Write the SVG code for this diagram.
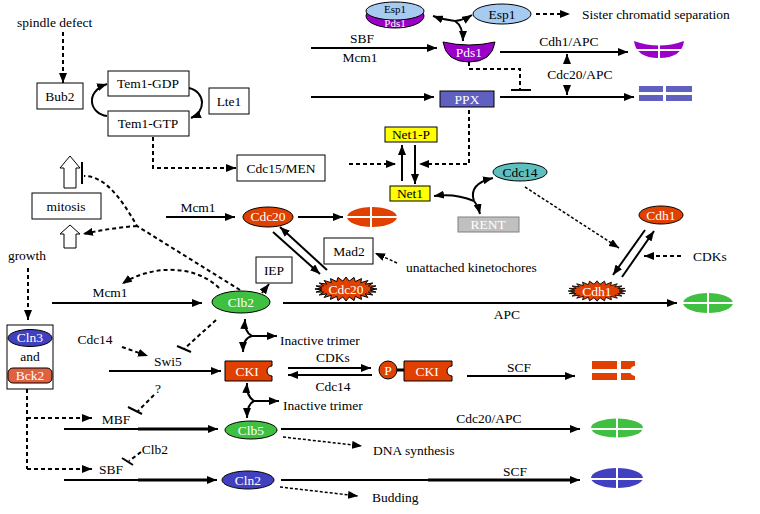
<svg xmlns="http://www.w3.org/2000/svg" width="760" height="514" viewBox="0 0 760 514" font-family="'Liberation Serif', 'DejaVu Serif', serif">
<style>
text{font-family:"Liberation Serif","DejaVu Serif",serif;font-size:13.5px;fill:#000}
.m{text-anchor:middle}
.w{fill:#fff}
.s{font-size:11px}
.box{fill:#fff;stroke:#000;stroke-width:1}
.ol{stroke:#000;stroke-width:1}
.red{fill:#E04000}
.grn{fill:#40C040}
.blu{fill:#4040C0}
.pur{fill:#9A00C8}
.ln{fill:none;stroke:#000;stroke-width:2}
.ds{fill:none;stroke:#000;stroke-width:2;stroke-dasharray:4 3}
.dt{fill:none;stroke:#000;stroke-width:1.5;stroke-dasharray:3 2}
.gap{stroke:#fff;stroke-width:2}
</style>
<defs>
<marker id="ah" viewBox="0 0 10 8" refX="10" refY="4" markerWidth="10" markerHeight="8" markerUnits="userSpaceOnUse" orient="auto-start-reverse"><path d="M0,0 L10,4 L0,8 z" fill="#000"/></marker>
<polygon id="star" points="32,0 24.8,1 30.9,3.1 23.1,3.1 27.7,6 19.8,4.9 22.6,8.5 15.2,6.3 16,10.4 9.6,7.4 8.3,11.6 3.3,7.9 0,12 -3.3,7.9 -8.3,11.6 -9.6,7.4 -16,10.4 -15.2,6.3 -22.6,8.5 -19.8,4.9 -27.7,6 -23.1,3.1 -30.9,3.1 -24.8,1 -32,0 -24.8,-1 -30.9,-3.1 -23.1,-3.1 -27.7,-6 -19.8,-4.9 -22.6,-8.5 -15.2,-6.3 -16,-10.4 -9.6,-7.4 -8.3,-11.6 -3.3,-7.9 0,-12 3.3,-7.9 8.3,-11.6 9.6,-7.4 16,-10.4 15.2,-6.3 22.6,-8.5 19.8,-4.9 27.7,-6 23.1,-3.1 30.9,-3.1 24.8,-1"/>
</defs>
<rect width="760" height="514" fill="#fff"/>

<g id="connectors">
<path class="ds" d="M63,32 V83" marker-end="url(#ah)"/>
<path class="ln" d="M107,116 C90,114 84,92 107,84" marker-end="url(#ah)"/>
<path class="ln" d="M189,88 C206,92 206,112 191,118" marker-end="url(#ah)"/>
<path class="ds" d="M153,137 V168 H236" marker-end="url(#ah)"/>
<path class="ln" d="M455,21 Q444,20 433,16" marker-end="url(#ah)"/>
<path class="ln" d="M455,21 Q464,20 472,15" marker-end="url(#ah)"/>
<path class="ln" d="M455,21 Q463,26 463,41" marker-end="url(#ah)"/>
<path class="ds" d="M536,14 H570" marker-end="url(#ah)"/>
<path class="ln" d="M311,48 H437" marker-end="url(#ah)"/>
<path class="ln" d="M500,52 H628" marker-end="url(#ah)"/>
<path class="ln" d="M567,64 V54" marker-end="url(#ah)"/>
<path class="ln" d="M567,86 V95" marker-end="url(#ah)"/>
<path class="ds" d="M469,62 V69 H520 V90"/>
<path class="ln" d="M511,90 H531"/>
<path class="ln" d="M311,97 H434" marker-end="url(#ah)"/>
<path class="ln" d="M500,97 H634" marker-end="url(#ah)"/>
<path class="ds" d="M469,110 V164 H419" marker-end="url(#ah)"/>
<path class="ds" d="M349,164 H396" marker-end="url(#ah)"/>
<path class="ln" d="M402,181 V145" marker-end="url(#ah)"/>
<path class="ln" d="M415,145 V184" marker-end="url(#ah)"/>
<path class="ln" d="M474,201 Q455,193 434,196" marker-end="url(#ah)"/>
<path class="ln" d="M474,201 Q468,184 493,178" marker-end="url(#ah)"/>
<path class="ln" d="M474,201 Q478,206 480,214" marker-end="url(#ah)"/>
<path class="dt" d="M525,187 L619,248" marker-end="url(#ah)"/>
<path class="ln" d="M82,162 V184"/>
<path class="ds" d="M240,290 L137,226 C120,196 104,176 84,176"/>
<path class="ds" d="M137,226 Q110,228 83,234" marker-end="url(#ah)"/>
<path class="ds" d="M28,268 V320" marker-end="url(#ah)"/>
<path class="ln" d="M52,303 H202" marker-end="url(#ah)"/>
<path class="ds" d="M219,288 C195,264 150,265 122,284" marker-end="url(#ah)"/>
<path class="ln" d="M262,293 L269,284" marker-end="url(#ah)"/>
<path class="ln" d="M166,217 H235" marker-end="url(#ah)"/>
<path class="ln" d="M298,217 H343" marker-end="url(#ah)"/>
<path class="ln" d="M273,232 L320,274" marker-end="url(#ah)"/>
<path class="ln" d="M327,270 L280,227" marker-end="url(#ah)"/>
<path class="dt" d="M397,263 L375,253" marker-end="url(#ah)"/>
<path class="ln" d="M283,303 H677" marker-end="url(#ah)"/>
<path class="ln" d="M645,230 L613,275" marker-end="url(#ah)"/>
<path class="ln" d="M622,277 L654,231" marker-end="url(#ah)"/>
<path class="ds" d="M681,256 H644" marker-end="url(#ah)"/>
<path class="ln" d="M252,336 Q244,332 245,319" marker-end="url(#ah)"/>
<path class="ln" d="M252,336 H277" marker-end="url(#ah)"/>
<path class="ln" d="M252,336 Q243,338 243,352" marker-end="url(#ah)"/>
<path class="ln" d="M254,401 Q246,396 247,383" marker-end="url(#ah)"/>
<path class="ln" d="M254,401 H279" marker-end="url(#ah)"/>
<path class="ln" d="M254,401 Q247,404 247,418" marker-end="url(#ah)"/>
<path class="ds" d="M122,347 L148,356" marker-end="url(#ah)"/>
<path class="ds" d="M216,320 L184,349"/>
<path class="ln" d="M177,346 L191,352"/>
<path class="ln" d="M109,371 H221" marker-end="url(#ah)"/>
<path class="ln" d="M288,368 H371" marker-end="url(#ah)"/>
<path class="ln" d="M372,375 H288" marker-end="url(#ah)"/>
<path class="ln" d="M397,370 H405" style="stroke-width:3"/>
<path class="ln" d="M467,376 H575" marker-end="url(#ah)"/>
<path class="ds" d="M27,389 V469"/>
<path class="ds" d="M27,418 H92" marker-end="url(#ah)"/>
<path class="ds" d="M27,469 H92" marker-end="url(#ah)"/>
<path class="ds" d="M154,395 L138,411"/>
<path class="ln" d="M128,407 L142,414"/>
<path class="ds" d="M141,452 L129,461"/>
<path class="ln" d="M122,458 L133,465"/>
<path class="ln" d="M64,429 H218" marker-end="url(#ah)"/>
<path class="ln" d="M138,429 H210" style="stroke-width:3"/>
<path class="ln" d="M64,480 H217" marker-end="url(#ah)"/>
<path class="ln" d="M138,480 H208" style="stroke-width:3"/>
<path class="ln" d="M281,429 H580" marker-end="url(#ah)"/>
<path class="ln" d="M281,480 H580" marker-end="url(#ah)"/>
<path class="ln" d="M428,480 H570" style="stroke-width:3"/>
<path class="dt" d="M283,437 L362,446" marker-end="url(#ah)"/>
<path class="dt" d="M280,487 L358,496" marker-end="url(#ah)"/>
</g>

<g id="labels">
<text x="17" y="27">spindle defect</text>
<text x="362" y="43" class="m">SBF</text>
<text x="360" y="62" class="m">Mcm1</text>
<text x="569" y="46" class="m">Cdh1/APC</text>
<text x="580" y="79" class="m">Cdc20/APC</text>
<text x="582" y="19">Sister chromatid separation</text>
<text x="27" y="260" class="m">growth</text>
<text x="110" y="297" class="m">Mcm1</text>
<text x="198" y="212" class="m">Mcm1</text>
<text x="406" y="272">unattached kinetochores</text>
<text x="710" y="261" class="m">CDKs</text>
<text x="507" y="319" class="m">APC</text>
<text x="280" y="345">Inactive trimer</text>
<text x="283" y="410">Inactive trimer</text>
<text x="95" y="344" class="m">Cdc14</text>
<text x="168" y="366" class="m">Swi5</text>
<text x="333" y="362" class="m">CDKs</text>
<text x="333" y="391" class="m">Cdc14</text>
<text x="519" y="372" class="m">SCF</text>
<text x="116" y="424" class="m">MBF</text>
<text x="158" y="393" class="m">?</text>
<text x="489" y="423" class="m">Cdc20/APC</text>
<text x="373" y="455">DNA synthesis</text>
<text x="155" y="454" class="m">Clb2</text>
<text x="111" y="474" class="m">SBF</text>
<text x="515" y="476" class="m">SCF</text>
<text x="372" y="502">Budding</text>
</g>

<g id="bub2"><rect class="box" x="37" y="83" width="46" height="26"/><text x="60" y="101" class="m">Bub2</text></g>
<g id="tem1gdp"><rect class="box" x="108" y="71" width="81" height="25"/><text x="148" y="88" class="m">Tem1-GDP</text></g>
<g id="tem1gtp"><rect class="box" x="108" y="111" width="81" height="25"/><text x="148" y="128" class="m">Tem1-GTP</text></g>
<g id="lte1"><rect class="box" x="209" y="88" width="40" height="26"/><text x="229" y="106" class="m">Lte1</text></g>
<g id="cdc15"><rect class="box" x="237" y="155" width="88" height="26"/><text x="281" y="173" class="m">Cdc15/MEN</text></g>
<g id="mitosis">
<polygon class="box" points="70,156 80,168 76,168 76,188 64,188 64,168 60,168"/>
<rect class="box" x="32" y="193" width="69" height="26"/><text x="66" y="211" class="m">mitosis</text>
<polygon class="box" points="70,225 80,234 76,234 76,248 64,248 64,234 60,234"/>
</g>
<g id="cln3bck2">
<rect class="box" x="7" y="325" width="46" height="64"/>
<ellipse class="blu ol" cx="30" cy="338" rx="22" ry="8.5"/><text x="30" y="342" class="m w">Cln3</text>
<text x="30" y="361" class="m">and</text>
<rect class="ol" fill="#E06040" x="8" y="368" width="44" height="15" rx="5"/><text x="30" y="380" class="m w">Bck2</text>
</g>
<g id="esp1pds1">
<ellipse class="pur ol" cx="395" cy="16" rx="29" ry="12"/>
<ellipse class="ol" fill="#A6CAF0" cx="395" cy="11" rx="29" ry="9"/>
<text x="395" y="13" class="m s">Esp1</text><text x="395" y="26.5" class="m w s">Pds1</text>
</g>
<g id="esp1"><ellipse class="ol" fill="#A6CAF0" cx="502" cy="14" rx="29" ry="10"/><text x="502" y="19" class="m">Esp1</text></g>
<g id="pds1"><path class="pur ol" d="M443,42 Q469,48 495,42 Q492,62 469,62 Q446,62 443,42 Z"/><text x="469" y="57" class="m w">Pds1</text></g>
<g id="pds1deg"><path class="pur" d="M634,41 Q659,50 684,41 Q682,58 659,58 Q636,58 634,41 Z"/><path class="gap" d="M659,40 V59 M632,50 H686"/></g>
<g id="ppx"><rect class="ol" fill="#6060C0" x="440" y="91" width="54" height="16"/><text x="467" y="104" class="m w">PPX</text></g>
<g id="ppxdeg" fill="#6060C0"><rect x="639" y="86" width="24" height="6"/><rect x="666" y="86" width="26" height="6"/><rect x="639" y="95" width="24" height="6"/><rect x="666" y="95" width="26" height="6"/></g>
<g id="net1p"><rect class="ol" fill="#FFFF00" x="385" y="127" width="52" height="15"/><text x="411" y="139" class="m">Net1-P</text></g>
<g id="net1"><rect class="ol" fill="#FFFF00" x="390" y="186" width="40" height="15"/><text x="410" y="198" class="m">Net1</text></g>
<g id="cdc14"><ellipse class="ol" fill="#5FBFBF" cx="520" cy="172" rx="27" ry="9"/><text x="520" y="177" class="m">Cdc14</text></g>
<g id="rent"><rect fill="#C0C0C0" stroke="#808080" x="458" y="217" width="61" height="15"/><text x="488" y="229" class="m w">RENT</text></g>
<g id="cdc20"><ellipse class="red ol" cx="268" cy="217" rx="25" ry="10"/><text x="268" y="221" class="m w">Cdc20</text></g>
<g id="cdc20deg"><ellipse class="red" cx="372" cy="217" rx="25" ry="10"/><path class="gap" d="M371,206 V228 M346,217 H398"/></g>
<g id="mad2"><rect class="box" x="324" y="238" width="49" height="26"/><text x="349" y="256" class="m">Mad2</text></g>
<g id="iep"><rect class="box" x="256" y="257" width="36" height="26"/><text x="274" y="275" class="m">IEP</text></g>
<g id="cdc20act"><use href="#star" class="red ol" transform="translate(346,289) scale(0.97,1)"/><text x="346" y="294" class="m w">Cdc20</text></g>
<g id="clb2"><ellipse class="grn ol" cx="241" cy="302" rx="29" ry="11"/><text x="241" y="307" class="m w">Clb2</text></g>
<g id="clb2deg"><ellipse class="grn" cx="708" cy="303" rx="25" ry="10"/><path class="gap" d="M708,292 V314 M682,303 H734"/></g>
<g id="cdh1"><ellipse class="red ol" cx="661" cy="215" rx="22" ry="9"/><text x="661" y="220" class="m w">Cdh1</text></g>
<g id="cdh1act"><use href="#star" class="red ol" transform="translate(597,291) scale(0.9,0.85)"/><text x="597" y="296" class="m w">Cdh1</text></g>
<g id="cki"><path class="red ol" d="M225,361 H272 V366 A5,5 0 0 0 272,376 V381 H225 Z"/><text x="247" y="376" class="m w">CKI</text></g>
<g id="pcki"><circle class="red ol" cx="388" cy="370" r="9"/><text x="388" y="375" class="m w">P</text><path class="red ol" d="M404,361 H452 V366 A5,5 0 0 0 452,376 V381 H404 Z"/><text x="427" y="376" class="m w">CKI</text></g>
<g id="ckideg"><path class="red" d="M592,361 H635 V366 A5,5 0 0 0 635,376 V380 H592 Z"/><path class="gap" d="M619,360 V382 M590,371 H637" style="stroke-width:4"/></g>
<g id="clb5"><ellipse class="grn ol" cx="251" cy="430" rx="26" ry="9"/><text x="251" y="435" class="m w">Clb5</text></g>
<g id="clb5deg"><ellipse class="grn" cx="617" cy="428" rx="26" ry="9.5"/><path class="gap" d="M617,417 V440 M590,429 H644"/></g>
<g id="cln2"><ellipse class="blu ol" cx="248" cy="480" rx="26" ry="9"/><text x="248" y="485" class="m w">Cln2</text></g>
<g id="cln2deg"><ellipse class="blu" cx="617" cy="478" rx="26" ry="10"/><path class="gap" d="M617,466 V490 M590,479 H644"/></g>
</svg>
